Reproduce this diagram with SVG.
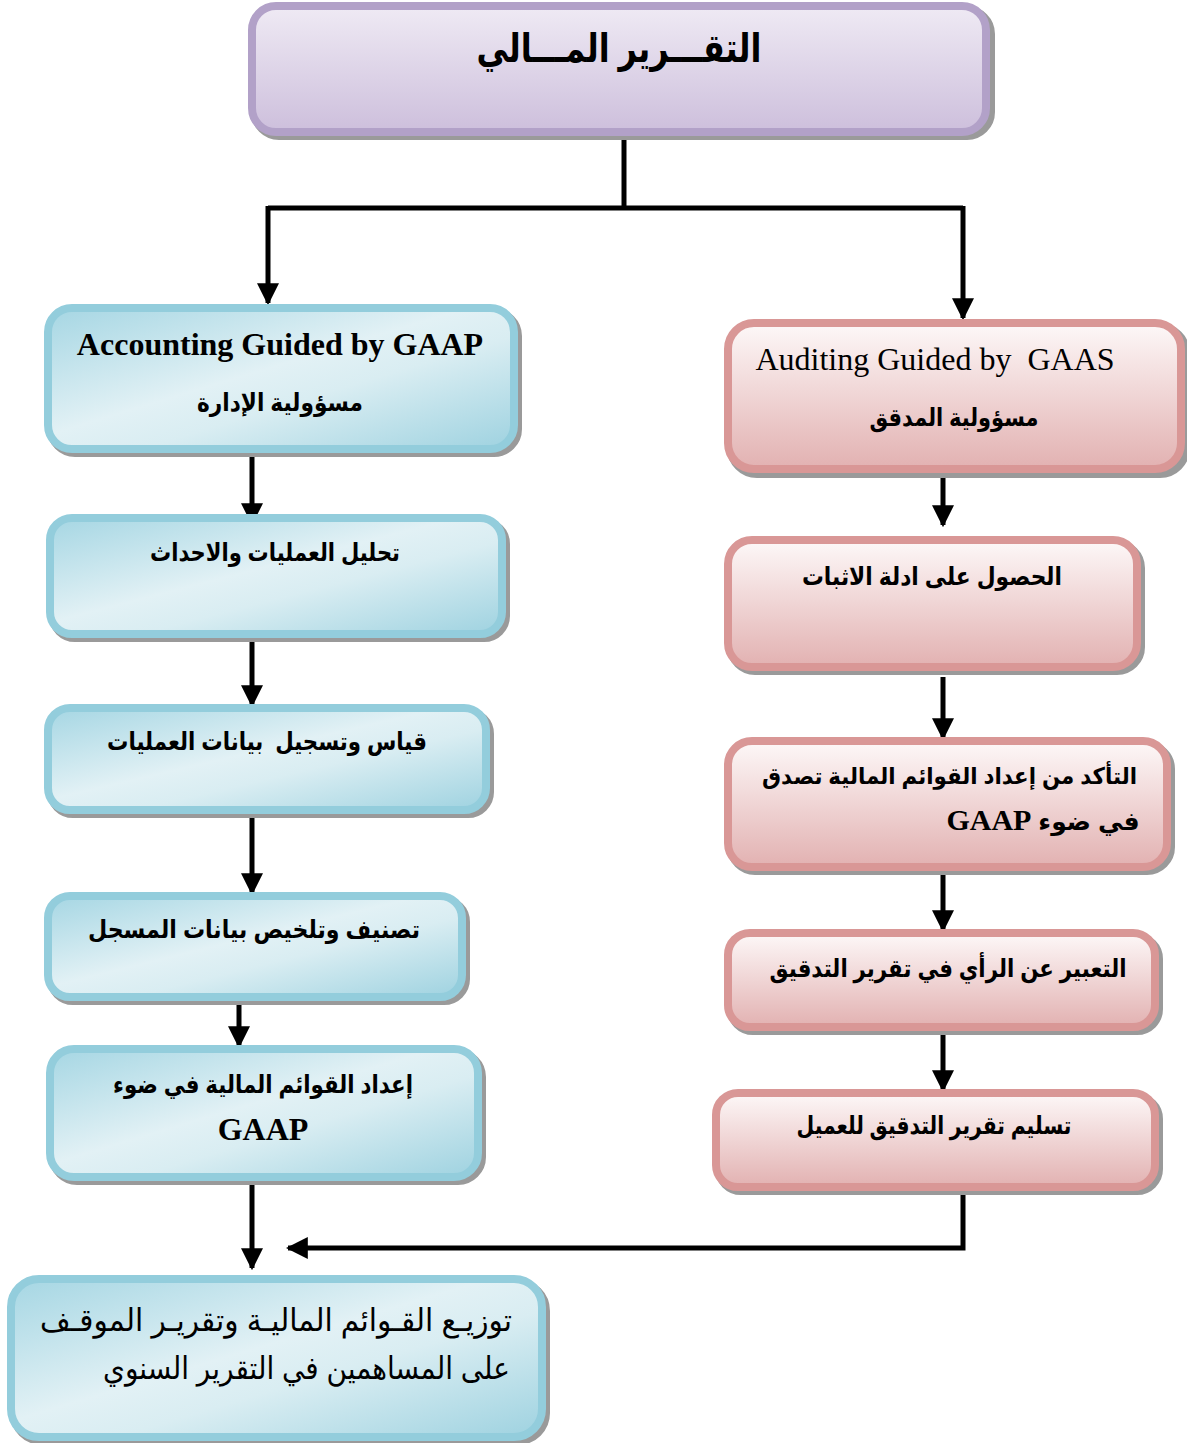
<svg xmlns="http://www.w3.org/2000/svg" width="1187" height="1443" viewBox="0 0 1187 1443">
  <defs>
    <linearGradient id="gPurple" x1="0" y1="0" x2="0" y2="1">
      <stop offset="0" stop-color="#efeaf4"/>
      <stop offset="1" stop-color="#cdbfdc"/>
    </linearGradient>
    <linearGradient id="gBlue" x1="0" y1="0" x2="1" y2="1">
      <stop offset="0" stop-color="#a5d6e3"/>
      <stop offset="0.45" stop-color="#e2f1f5"/>
      <stop offset="0.6" stop-color="#d9edf2"/>
      <stop offset="1" stop-color="#9ed2e0"/>
    </linearGradient>
    <linearGradient id="gRed" x1="0" y1="0" x2="0" y2="1">
      <stop offset="0" stop-color="#fdf8f8"/>
      <stop offset="1" stop-color="#e2b1b1"/>
    </linearGradient>
    <marker id="arrow" viewBox="0 0 10 10" refX="9" refY="5" markerWidth="4.4" markerHeight="4.4" markerUnits="strokeWidth" orient="auto">
      <path d="M0,0 L10,5 L0,10 Z" fill="#000"/>
    </marker>
  </defs>
  <style>
    .shadow { fill: none; stroke: #9a9a9a; stroke-width: 8; }
    .purple { fill: url(#gPurple); stroke: #b2a1c8; stroke-width: 8; }
    .blue { fill: url(#gBlue); stroke: #93cddc; stroke-width: 8; }
    .red { fill: url(#gRed); stroke: #d99796; stroke-width: 8; }
    .ar { font-family: "Liberation Sans", "DejaVu Sans", sans-serif; font-weight: bold; font-size: 25px; fill: #000; white-space: pre; }
    .ar-title { font-size: 40px; }
    .ar-small { font-size: 23px; }
    .ar-reg { font-weight: normal; font-size: 31px; }
    .en { font-family: "Liberation Serif", serif; font-size: 32px; fill: #000; white-space: pre; }
    .en-b { font-weight: bold; }
    .en-30 { font-size: 30px; }
    .conn { fill: none; stroke: #000; stroke-width: 5; }
  </style>

  <!-- connectors -->
  <g id="connectors">
    <path class="conn" d="M624,130 V208"/>
    <path class="conn" d="M268,208 H963"/>
    <path class="conn" d="M268,206 V303" marker-end="url(#arrow)"/>
    <path class="conn" d="M963,206 V318" marker-end="url(#arrow)"/>
    <path class="conn" d="M252,455 V523" marker-end="url(#arrow)"/>
    <path class="conn" d="M252,640 V705" marker-end="url(#arrow)"/>
    <path class="conn" d="M252,815 V893" marker-end="url(#arrow)"/>
    <path class="conn" d="M239,993 V1046" marker-end="url(#arrow)"/>
    <path class="conn" d="M252,1183 V1268" marker-end="url(#arrow)"/>
    <path class="conn" d="M943,470 V525" marker-end="url(#arrow)"/>
    <path class="conn" d="M943,677 V738" marker-end="url(#arrow)"/>
    <path class="conn" d="M943,865 V930" marker-end="url(#arrow)"/>
    <path class="conn" d="M943,1023 V1090" marker-end="url(#arrow)"/>
    <path class="conn" d="M963,1185 V1248 H288" marker-end="url(#arrow)"/>
  </g>

  <!-- top node -->
  <g id="financial-report">
    <rect class="shadow" x="255" y="10" width="736" height="126" rx="24"/>
    <rect class="purple" x="252" y="6" width="734" height="126" rx="24"/>
    <text class="ar ar-title" x="619" y="62" text-anchor="middle" direction="rtl" textLength="285" lengthAdjust="spacingAndGlyphs">التقـــرير المـــالي</text>
  </g>

  <!-- accounting column -->
  <g id="accounting">
    <rect class="shadow" x="51" y="312" width="467" height="141" rx="24"/>
    <rect class="blue" x="48" y="308" width="466" height="141" rx="24"/>
    <text class="en en-b" x="280" y="355" text-anchor="middle">Accounting Guided by GAAP</text>
    <text class="ar" x="280" y="411" text-anchor="middle" direction="rtl" textLength="166" lengthAdjust="spacingAndGlyphs">مسؤولية الإدارة</text>
  </g>
  <g id="analyze">
    <rect class="shadow" x="53" y="522" width="453" height="116" rx="22"/>
    <rect class="blue" x="50" y="518" width="452" height="116" rx="22"/>
    <text class="ar" x="275" y="561" text-anchor="middle" direction="rtl" textLength="250" lengthAdjust="spacingAndGlyphs">تحليل العمليات والاحداث</text>
  </g>
  <g id="measure">
    <rect class="shadow" x="51" y="712" width="439" height="102" rx="22"/>
    <rect class="blue" x="48" y="708" width="438" height="102" rx="22"/>
    <text class="ar" x="267" y="750" text-anchor="middle" direction="rtl" textLength="320" lengthAdjust="spacingAndGlyphs">قياس وتسجيل  بيانات العمليات</text>
  </g>
  <g id="classify">
    <rect class="shadow" x="51" y="900" width="415" height="101" rx="22"/>
    <rect class="blue" x="48" y="896" width="414" height="101" rx="22"/>
    <text class="ar" x="254" y="938" text-anchor="middle" direction="rtl" textLength="332" lengthAdjust="spacingAndGlyphs">تصنيف وتلخيص بيانات المسجل</text>
  </g>
  <g id="prepare">
    <rect class="shadow" x="53" y="1053" width="429" height="128" rx="24"/>
    <rect class="blue" x="50" y="1049" width="428" height="128" rx="24"/>
    <text class="ar" x="263" y="1093" text-anchor="middle" direction="rtl" textLength="300" lengthAdjust="spacingAndGlyphs">إعداد القوائم المالية في ضوء</text>
    <text class="en en-b" x="263" y="1140" text-anchor="middle">GAAP</text>
  </g>
  <g id="distribute">
    <rect class="shadow" x="14" y="1283" width="532" height="158" rx="28"/>
    <rect class="blue" x="11" y="1279" width="531" height="158" rx="28"/>
    <text class="ar ar-reg" x="276" y="1331" text-anchor="middle" direction="rtl" textLength="472" lengthAdjust="spacingAndGlyphs">توزيـع القـوائم الماليـة وتقريـر الموقـف</text>
    <text class="ar ar-reg" x="306.5" y="1379" text-anchor="middle" direction="rtl" textLength="407" lengthAdjust="spacingAndGlyphs">على المساهمين في التقرير السنوي</text>
  </g>

  <!-- auditing column -->
  <g id="auditing">
    <rect class="shadow" x="731" y="327" width="455" height="147" rx="26"/>
    <rect class="red" x="728" y="323" width="453" height="146" rx="26"/>
    <text class="en" x="935" y="370" text-anchor="middle">Auditing Guided by  GAAS</text>
    <text class="ar" x="954" y="426" text-anchor="middle" direction="rtl" textLength="169" lengthAdjust="spacingAndGlyphs">مسؤولية المدقق</text>
  </g>
  <g id="evidence">
    <rect class="shadow" x="731" y="544" width="410" height="127" rx="24"/>
    <rect class="red" x="728" y="540" width="409" height="127" rx="24"/>
    <text class="ar" x="932" y="585" text-anchor="middle" direction="rtl" textLength="260" lengthAdjust="spacingAndGlyphs">الحصول على ادلة الاثبات</text>
  </g>
  <g id="verify">
    <rect class="shadow" x="731" y="745" width="440" height="126" rx="24"/>
    <rect class="red" x="728" y="741" width="439" height="126" rx="24"/>
    <text class="ar ar-small" x="949.5" y="784" text-anchor="middle" direction="rtl" textLength="375" lengthAdjust="spacingAndGlyphs">التأكد من إعداد القوائم المالية تصدق</text>
    <text class="ar" x="1043" y="830" text-anchor="middle" direction="rtl">في ضوء <tspan class="en en-b en-30">GAAP</tspan></text>
  </g>
  <g id="opinion">
    <rect class="shadow" x="731" y="937" width="428" height="94" rx="22"/>
    <rect class="red" x="728" y="933" width="427" height="94" rx="22"/>
    <text class="ar" x="948" y="977" text-anchor="middle" direction="rtl" textLength="357" lengthAdjust="spacingAndGlyphs">التعبير عن الرأي في تقرير التدقيق</text>
  </g>
  <g id="deliver">
    <rect class="shadow" x="719" y="1097" width="440" height="94" rx="22"/>
    <rect class="red" x="716" y="1093" width="439" height="94" rx="22"/>
    <text class="ar" x="934" y="1134" text-anchor="middle" direction="rtl" textLength="275" lengthAdjust="spacingAndGlyphs">تسليم تقرير التدقيق للعميل</text>
  </g>
</svg>
